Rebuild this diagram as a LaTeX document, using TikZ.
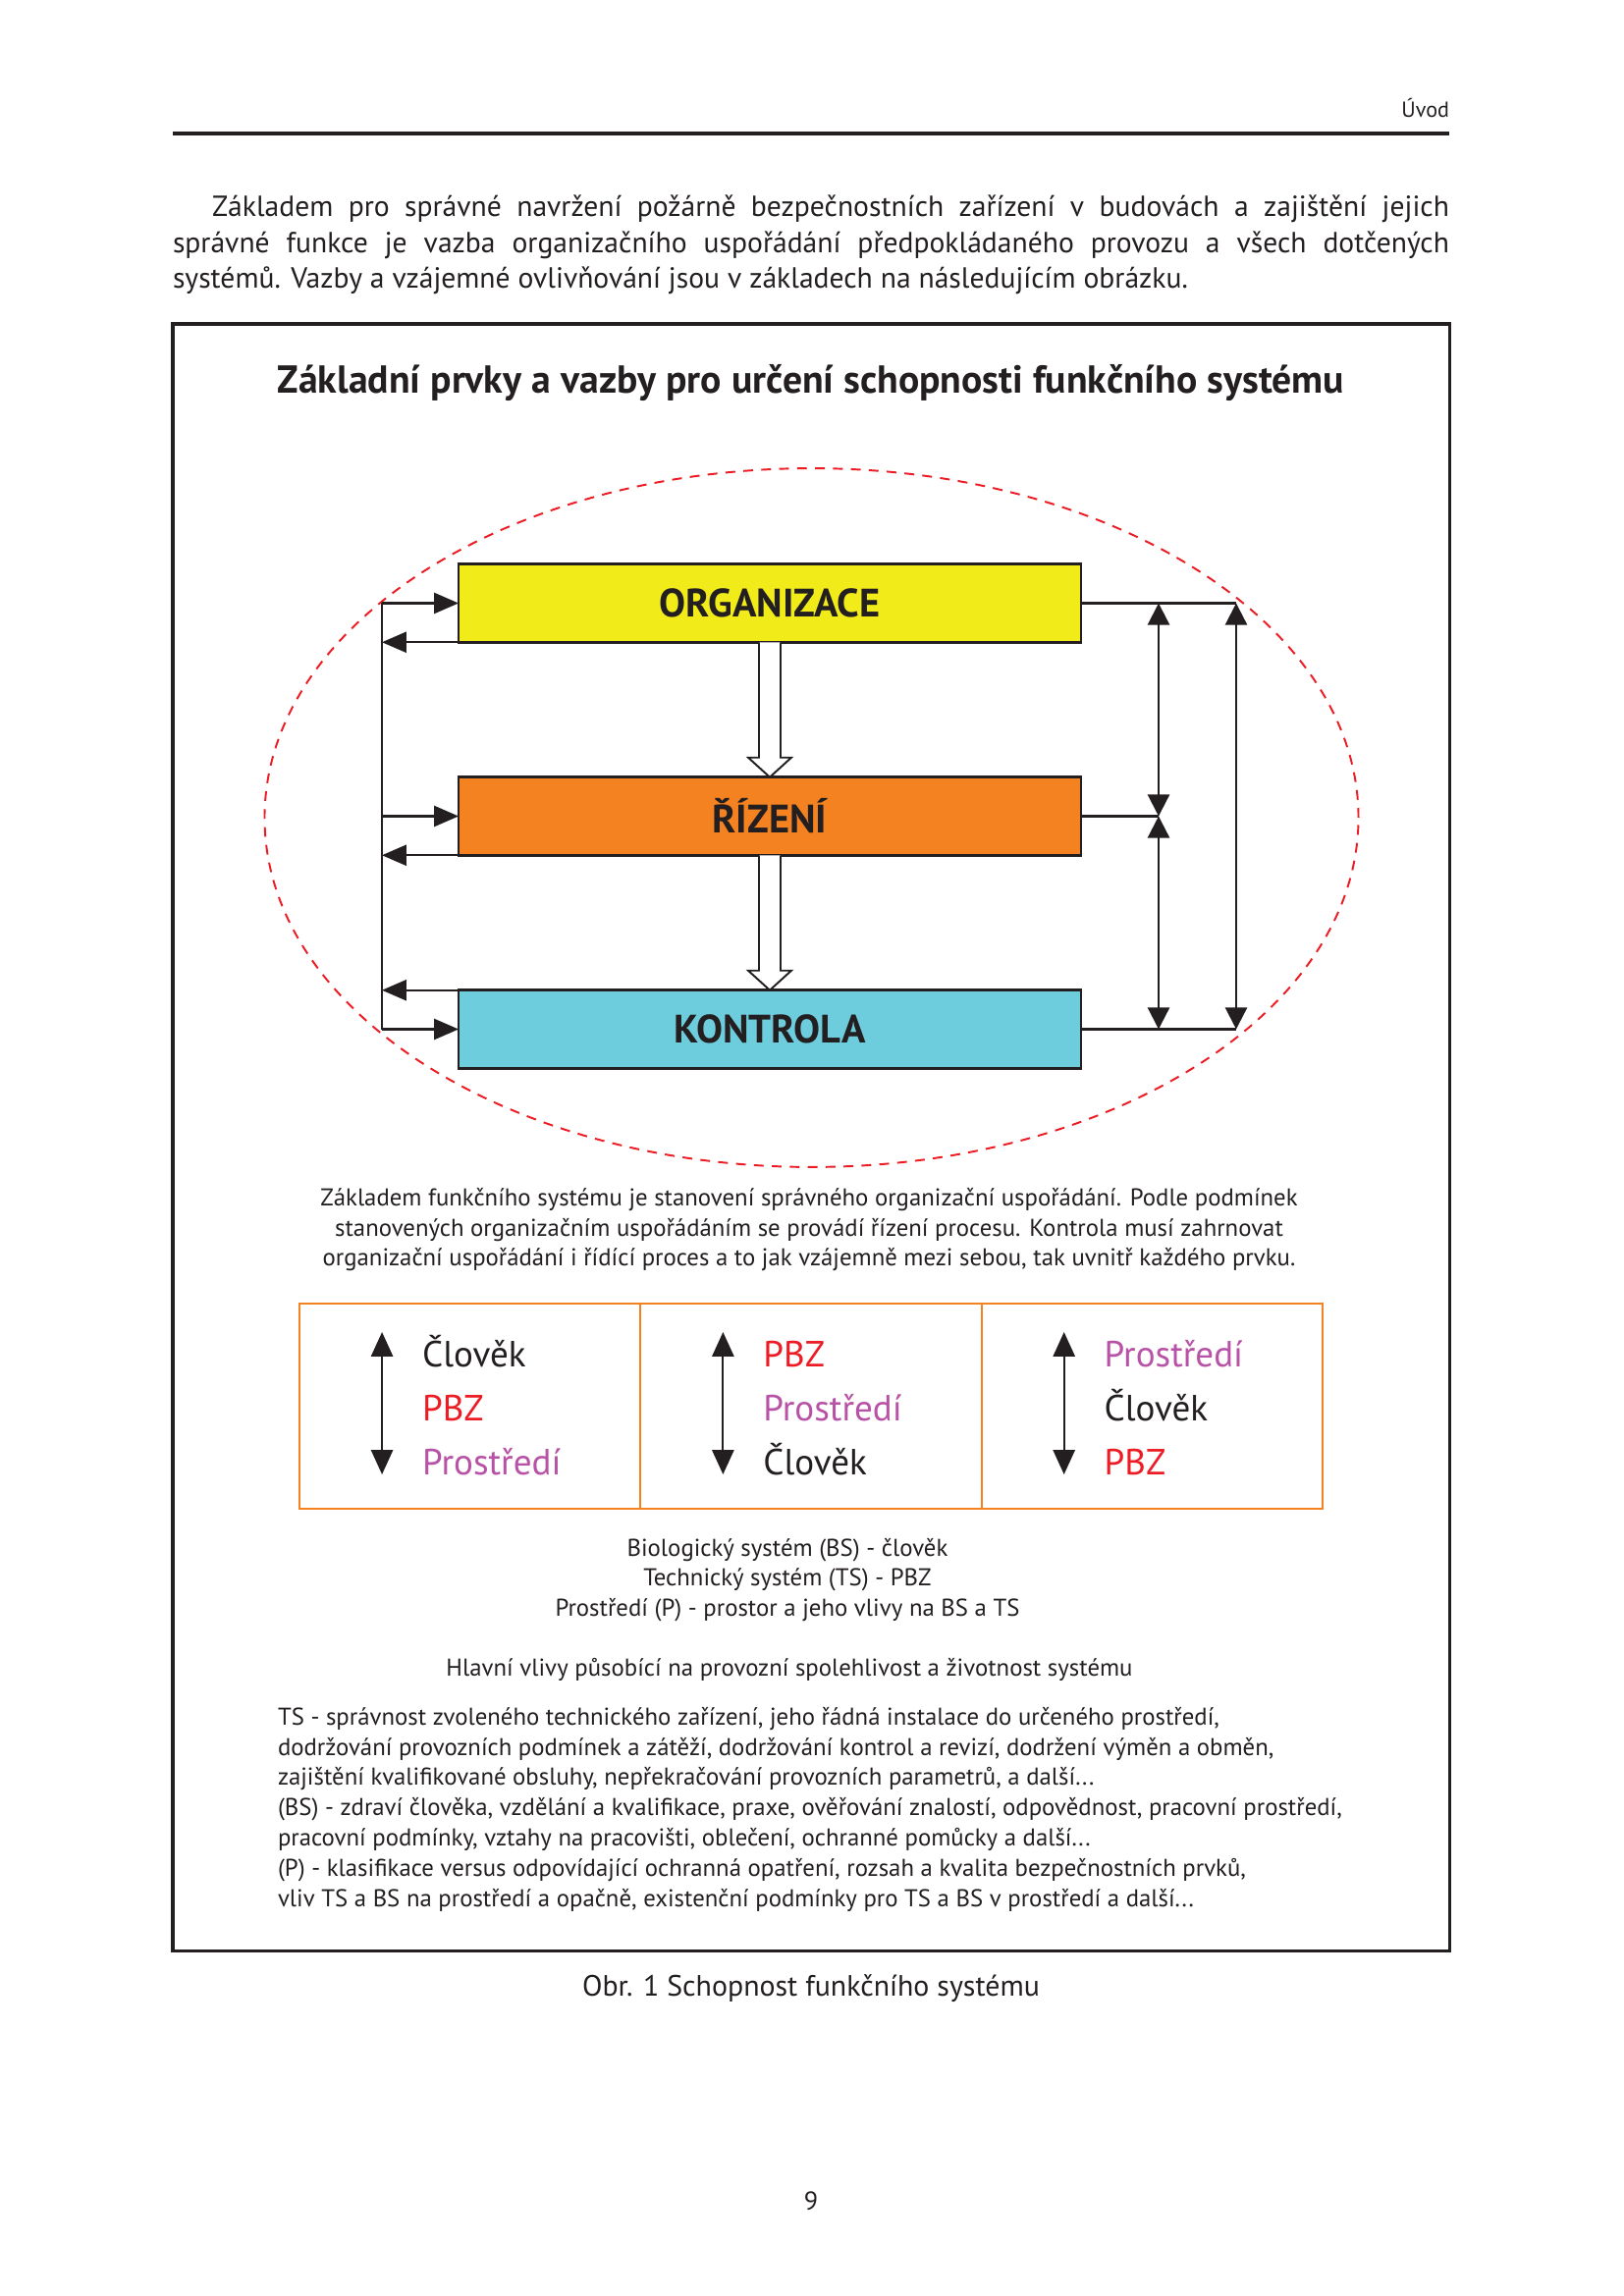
\documentclass[tikz,border=0pt]{standalone}
\usepackage{fontspec}
\setmainfont{PT Sans}
\usetikzlibrary{arrows.meta,calc}
\definecolor{ink}{HTML}{231F20}
\definecolor{boxyellow}{HTML}{F2EB1A}
\definecolor{boxorange}{HTML}{F58220}
\definecolor{boxcyan}{HTML}{6DCDDD}
\definecolor{dashred}{HTML}{ED1C24}
\definecolor{pbzred}{HTML}{ED1C24}
\definecolor{envpurple}{HTML}{B852A6}
\newcommand{\fsz}[2]{\fontsize{#1}{#2}\selectfont}
\tikzset{
  lbl/.style={inner sep=0pt, outer sep=0pt, text=ink},
  mainbox/.style={draw=ink, line width=0.9pt, minimum width=80.5mm, minimum height=10.1mm,
    inner sep=0pt, outer sep=0pt, font=\bfseries\fsz{14.6}{17}, text=ink},
  cell/.style={draw=boxorange, line width=0.8pt, minimum width=44.1mm, minimum height=26.55mm,
    inner sep=0pt, outer sep=0pt},
  conn/.style={draw=ink, line width=0.8pt},
  tipend/.style={conn, -{Triangle[length=9pt,width=7.6pt]}},
  tipboth/.style={conn, {Triangle[length=8pt,width=8pt]}-{Triangle[length=8pt,width=8pt]}},
  tipcell/.style={conn, {Triangle[length=9pt,width=8pt]}-{Triangle[length=9pt,width=8pt]}},
  hollow/.style={draw=ink, line width=0.7pt, fill=white, line join=miter},
  word/.style={lbl, anchor=base west, font=\fsz{13.4}{16}},
  small/.style={lbl, anchor=base, font=\fsz{8.95}{11}},
}
\begin{document}
\begin{tikzpicture}[x=0.127mm, y=-0.127mm]
\fill[white] (0,0) rectangle (1653,2339);
\useasboundingbox (0,0) rectangle (1653,2339);

% header
\node[lbl, anchor=base east, font=\fsz{8}{9}] (hdr) at (1476,120) {Úvod};
\draw[ink, line width=1.4pt] (176,136) -- (1476,136);

% intro paragraph
\node[lbl, anchor=base west, font=\fsz{10.7}{13}] (p1) at (216,220.5)
  {\makebox[160.02mm][s]{Základem pro správné navržení požárně bezpečnostních zařízení v budovách a zajištění jejich}};
\node[lbl, anchor=base west, font=\fsz{10.7}{13}] (p2) at (176,257.5)
  {\makebox[165.1mm][s]{správné funkce je vazba organizačního uspořádání předpokládaného provozu a všech dotčených}};
\node[lbl, anchor=base west, font=\fsz{10.7}{13}] (p3) at (176,293.5)
  {systémů. Vazby a vzájemné ovlivňování jsou v základech na následujícím obrázku.};

% frame
\draw[ink, line width=1.1pt] (176,330) rectangle (1476,1987);

% title
\node[lbl, anchor=base, font=\bfseries\fsz{14.35}{17}] (title) at (826,401)
  {Základní prvky a vazby pro určení schopnosti funkčního systému};

% dashed ellipse
\draw[dashred, line width=0.7pt, dash pattern=on 3.6pt off 3pt] (826.5,833) ellipse [x radius=70.74mm, y radius=45.2mm];

% boxes
\node[mainbox, fill=boxyellow] (org) at (784,614.5) {ORGANIZACE};
\node[mainbox, fill=boxorange] (riz) at (784,831.5) {ŘÍZENÍ};
\node[mainbox, fill=boxcyan] (kon) at (784,1048.5) {KONTROLA};

% left bus
\coordinate (bus) at (389,614.5);
\draw[conn] (bus |- org.west) -- (bus |- kon.west);
\draw[tipend] (bus |- org.west) -- (org.west);
\draw[tipend] (org.south west) -- (bus |- org.south west);
\draw[tipend] (bus |- riz.west) -- (riz.west);
\draw[tipend] (riz.south west) -- (bus |- riz.south west);
\draw[tipend] (kon.north west) -- (bus |- kon.north west);
\draw[tipend] (bus |- kon.west) -- (kon.west);

% right side
\coordinate (ra) at (1180,614.5);
\coordinate (rb) at (1259,614.5);
\draw[conn] (org.east) -- (org.east -| rb);
\draw[conn] (riz.east) -- (riz.east -| ra);
\draw[conn] (kon.east) -- (kon.east -| rb);
\draw[tipboth] (org.east -| ra) -- (riz.east -| ra);
\draw[tipboth] (riz.east -| ra) -- (kon.east -| ra);
\draw[tipboth] (org.east -| rb) -- (kon.east -| rb);

% hollow arrows
\draw[hollow] ($(org.south)+(-11,0)$) -- ($(riz.north)+(-11,-20)$) -- ($(riz.north)+(-22,-20)$)
  -- (riz.north) -- ($(riz.north)+(22,-20)$) -- ($(riz.north)+(11,-20)$) -- ($(org.south)+(11,0)$);
\draw[hollow] ($(riz.south)+(-11,0)$) -- ($(kon.north)+(-11,-20)$) -- ($(kon.north)+(-22,-20)$)
  -- (kon.north) -- ($(kon.north)+(22,-20)$) -- ($(kon.north)+(11,-20)$) -- ($(riz.south)+(11,0)$);

% description
\node[small] (d1) at (824,1228) {Základem funkčního systému je stanovení správného organizační uspořádání. Podle podmínek};
\node[small] (d2) at (824,1259) {stanovených organizačním uspořádáním se provádí řízení procesu. Kontrola musí zahrnovat};
\node[small] (d3) at (824,1289) {organizační uspořádání i řídící proces a to jak vzájemně mezi sebou, tak uvnitř každého prvku.};

% table
\node[cell] (c1) at (478.7,1432.5) {};
\node[cell] (c2) at (826,1432.5) {};
\node[cell] (c3) at (1173.3,1432.5) {};

\draw[tipcell] ($(c1.north west)+(84,29)$) -- ($(c1.south west)+(84,-35)$);
\draw[tipcell] ($(c2.north west)+(84,29)$) -- ($(c2.south west)+(84,-35)$);
\draw[tipcell] ($(c3.north west)+(84,29)$) -- ($(c3.south west)+(84,-35)$);

\node[word] (c1a) at ($(c1.north west)+(125,65)$) {Člověk};
\node[word, text=pbzred] (c1b) at ($(c1.north west)+(125,120)$) {PBZ};
\node[word, text=envpurple] (c1c) at ($(c1.north west)+(125,175)$) {Prostředí};
\node[word, text=pbzred] (c2a) at ($(c2.north west)+(125,65)$) {PBZ};
\node[word, text=envpurple] (c2b) at ($(c2.north west)+(125,120)$) {Prostředí};
\node[word] (c2c) at ($(c2.north west)+(125,175)$) {Člověk};
\node[word, text=envpurple] (c3a) at ($(c3.north west)+(125,65)$) {Prostředí};
\node[word] (c3b) at ($(c3.north west)+(125,120)$) {Člověk};
\node[word, text=pbzred] (c3c) at ($(c3.north west)+(125,175)$) {PBZ};

% legend
\node[small] (l1) at (802,1585.5) {Biologický systém (BS) - člověk};
\node[small] (l2) at (802,1615.5) {Technický systém (TS) - PBZ};
\node[small] (l3) at (802,1646.5) {Prostředí (P) - prostor a jeho vlivy na BS a TS};
\node[small] (hl) at (804,1707.5) {Hlavní vlivy působící na provozní spolehlivost a životnost systému};

\node[small, anchor=base west] (t1) at (283,1757) {TS - správnost zvoleného technického zařízení, jeho řádná instalace do určeného prostředí,};
\node[small, anchor=base west] (t2) at (283,1788) {dodržování provozních podmínek a zátěží, dodržování kontrol a revizí, dodržení výměn a obměn,};
\node[small, anchor=base west] (t3) at (283,1818.5) {zajištění kvalifikované obsluhy, nepřekračování provozních parametrů, a další...};
\node[small, anchor=base west] (t4) at (283,1849.5) {(BS) - zdraví člověka, vzdělání a kvalifikace, praxe, ověřování znalostí, odpovědnost, pracovní prostředí,};
\node[small, anchor=base west] (t5) at (283,1880) {pracovní podmínky, vztahy na pracovišti, oblečení, ochranné pomůcky a další...};
\node[small, anchor=base west] (t6) at (283,1911) {(P) - klasifikace versus odpovídající ochranná opatření, rozsah a kvalita bezpečnostních prvků,};
\node[small, anchor=base west] (t7) at (283,1942) {vliv TS a BS na prostředí a opačně, existenční podmínky pro TS a BS v prostředí a další...};

% caption and page number
\node[lbl, anchor=base, font=\fsz{10.8}{13}] (cap) at (826,2033) {Obr. 1 Schopnost funkčního systému};
\node[lbl, anchor=base, font=\fsz{9.5}{11}] (pg) at (826,2251) {9};
\end{tikzpicture}
\end{document}
